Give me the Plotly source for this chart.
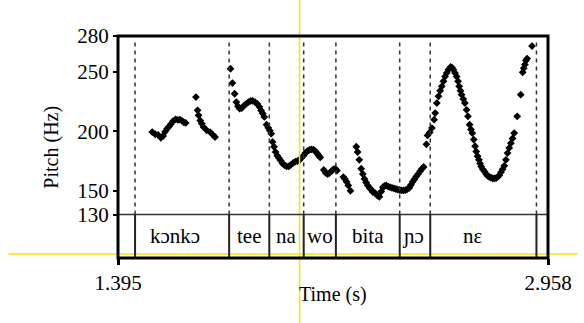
import plotly.graph_objects as go

# ---------------- data ----------------
konko_t = [1.5194, 1.5302, 1.5409, 1.5506, 1.5588, 1.5660, 1.5731, 1.5803, 1.5875,
           1.5946, 1.6043, 1.6125, 1.6197, 1.6269, 1.6340, 1.6412]
konko_hz = [199.3, 197.5, 197.0, 194.5, 196.0, 199.5, 202.0, 204.0, 206.0,
            208.5, 210.0, 209.5, 209.7, 209.0, 207.5, 207.0]

konko2_t = [1.6782, 1.6843, 1.6878, 1.6939, 1.6997, 1.7058, 1.7176, 1.7298, 1.7416, 1.7477]
konko2_hz = [228.7, 217.6, 213.4, 209.0, 206.4, 203.5, 200.8, 199.3, 196.6, 195.1]

tee_t = [1.804, 1.811, 1.819, 1.825, 1.831, 1.837, 1.845, 1.853, 1.861, 1.869, 1.877,
         1.885, 1.893, 1.901, 1.909, 1.915, 1.921, 1.927, 1.935, 1.941, 1.947, 1.952,
         1.957, 1.962, 1.968, 1.974, 1.980, 1.986, 1.993, 2.000, 2.008, 2.016, 2.024,
         2.032, 2.040, 2.048, 2.056, 2.063, 2.070, 2.077, 2.084, 2.091, 2.098, 2.106,
         2.113, 2.119, 2.124, 2.130]
tee_hz = [252.5, 240.5, 231.5, 224.5, 221.0, 219.0, 219.5, 221.5, 223.0, 224.5, 225.5,
          225.5, 224.5, 223.0, 220.5, 217.5, 215.0, 212.0, 205.5, 203.0, 200.5, 198.0,
          191.0, 187.0, 182.5, 179.5, 177.5, 175.5, 173.0, 171.5, 170.5, 170.5, 172.0,
          173.5, 174.5, 175.0, 176.0, 178.0, 179.7, 182.0, 183.5, 184.3, 184.8, 184.5,
          183.0, 181.5, 179.7, 178.0]

wo_t = [2.143, 2.150, 2.157, 2.164, 2.171, 2.178, 2.185, 2.191, 2.214, 2.220, 2.226,
        2.232, 2.240]
wo_hz = [167.5, 165.0, 164.0, 165.0, 166.5, 168.0, 168.5, 167.0, 161.5, 160.0, 157.5,
         154.5, 150.0]

bita_t = [2.261, 2.266, 2.272, 2.279, 2.285, 2.291, 2.297, 2.303, 2.309, 2.315, 2.321,
          2.330, 2.338, 2.345, 2.352, 2.358, 2.364, 2.370, 2.377, 2.384, 2.391, 2.398,
          2.405, 2.412, 2.419, 2.426, 2.433, 2.440, 2.447, 2.454, 2.460, 2.466, 2.472,
          2.479, 2.486, 2.493, 2.500, 2.506]
bita_hz = [187.0, 182.5, 176.0, 168.5, 164.0, 160.0, 157.0, 154.5, 152.5, 151.0, 149.0,
           148.0, 146.0, 145.0, 149.5, 153.0, 154.0, 154.5, 153.5, 153.0, 152.5, 152.0,
           151.5, 151.0, 150.5, 150.3, 150.3, 150.5, 151.5, 152.5, 155.0, 157.5, 159.5,
           162.0, 164.0, 166.5, 168.5, 170.0]

ne_t = [2.516, 2.520, 2.528, 2.536, 2.544, 2.548, 2.554, 2.560, 2.566, 2.572, 2.578,
        2.584, 2.590, 2.596, 2.604, 2.609, 2.614, 2.620, 2.626, 2.631, 2.635, 2.640,
        2.644, 2.650, 2.656, 2.662, 2.667, 2.673, 2.678, 2.683, 2.688, 2.693, 2.697,
        2.702, 2.707, 2.711, 2.715, 2.721, 2.727, 2.733, 2.739, 2.745, 2.751, 2.757,
        2.763, 2.769, 2.775, 2.781, 2.787, 2.793, 2.799, 2.805, 2.811, 2.817, 2.823,
        2.829, 2.835, 2.846, 2.859, 2.866, 2.870, 2.874, 2.878, 2.882, 2.900]
ne_hz = [189.0, 196.5, 199.0, 202.7, 209.7, 215.3, 223.7, 229.3, 234.0, 237.7, 242.0,
         246.0, 249.0, 251.7, 254.0, 253.5, 251.7, 249.0, 246.0, 242.0, 237.7, 234.0,
         230.7, 227.0, 223.7, 218.0, 212.5, 205.5, 201.5, 198.5, 193.0, 187.5, 183.0,
         179.0, 176.0, 173.0, 170.5, 168.0, 166.3, 164.0, 162.5, 161.5, 161.0, 160.5,
         160.5, 160.7, 161.5, 163.0, 165.5, 168.0, 171.0, 176.0, 181.7, 186.0, 190.0,
         194.0, 198.5, 212.5, 230.7, 249.5, 253.0, 256.0, 259.5, 261.0, 271.5]

time_min, time_max = 1.395, 2.958
pitch_min, pitch_max = 130, 280
pitch_ticks = [130, 150, 200, 250, 280]
time_ticks = [1.395, 2.958]
time_ticktext = ["1.395", "2.958"]

boundaries = [1.457, 1.799, 1.945, 2.070, 2.187, 2.419, 2.530, 2.916]
labels = ["", "kɔnkɔ", "tee", "na", "wo", "bita", "ɲɔ", "nɛ", ""]
label_shift = [0, -7, 0, 0, 0, 0, -2, -10, 0]

cursor_time = 2.055

# ---------------- figure ----------------
W, H = 584, 323
ML, MR, MT, MB = 118, 30, 36, 65
plot_h = H - MT - MB
px_per_hz = (214.3 - 35.7) / (pitch_max - pitch_min)
tier_bottom = pitch_min - (plot_h - (pitch_max - pitch_min) * px_per_hz) / px_per_hz

FONT = "Liberation Serif, DejaVu Serif, serif"

all_t = konko_t + konko2_t + tee_t + wo_t + bita_t + ne_t
all_hz = konko_hz + konko2_hz + tee_hz + wo_hz + bita_hz + ne_hz

fig = go.Figure()
fig.add_trace(go.Scatter(
    x=all_t, y=all_hz, mode="markers",
    marker=dict(symbol="diamond", size=6, color="black", line=dict(width=0)),
    showlegend=False, hoverinfo="skip"))

shapes = []
# cursor lines (yellow)
cx = (cursor_time - time_min) / (time_max - time_min)
shapes.append(dict(type="line", xref="paper", yref="paper",
                   x0=cx, x1=cx, y0=-(MB / plot_h), y1=1 + MT / plot_h,
                   line=dict(color="#f7e600", width=1.5), layer="above"))
shapes.append(dict(type="line", xref="paper", yref="paper",
                   x0=(7 - ML) / (W - ML - MR), x1=(W - ML) / (W - ML - MR),
                   y0=4 / plot_h, y1=4 / plot_h,
                   line=dict(color="#f7e600", width=1.5), layer="above"))

# tier line at bottom of pitch area
shapes.append(dict(type="line", xref="x", yref="y", x0=time_min, x1=time_max,
                   y0=pitch_min, y1=pitch_min, line=dict(color="#333", width=1.5)))
for b in boundaries:
    shapes.append(dict(type="line", xref="x", yref="y", x0=b, x1=b,
                       y0=pitch_min, y1=pitch_max - 5,
                       line=dict(color="#333", width=1.5, dash="4px,4px")))
    shapes.append(dict(type="line", xref="x", yref="y", x0=b, x1=b,
                       y0=tier_bottom, y1=pitch_min,
                       line=dict(color="#222", width=2)))
# frame
shapes.append(dict(type="rect", xref="paper", yref="paper", x0=0, x1=1, y0=0, y1=1,
                   line=dict(color="black", width=3), layer="above"))

edges = [time_min] + boundaries + [time_max]
annotations = []
for i, lab in enumerate(labels):
    if not lab:
        continue
    annotations.append(dict(x=(edges[i] + edges[i + 1]) / 2, y=(pitch_min + tier_bottom) / 2,
                            xref="x", yref="y", text=lab, showarrow=False,
                            xshift=label_shift[i],
                            font=dict(family=FONT, size=21, color="black")))
annotations.append(dict(x=(36 - ML) / (W - ML - MR), y=0.5, xref="paper", yref="paper",
                        text="Pitch (Hz)", textangle=-90, showarrow=False,
                        font=dict(family=FONT, size=20, color="black")))
annotations.append(dict(x=0.5, y=-(308 - (H - MB)) / plot_h, xref="paper", yref="paper",
                        text="Time (s)", showarrow=False,
                        font=dict(family=FONT, size=20, color="black")))

fig.update_layout(
    width=W, height=H,
    margin=dict(l=ML, r=MR, t=MT, b=MB, pad=0),
    paper_bgcolor="white", plot_bgcolor="white",
    shapes=shapes, annotations=annotations,
    xaxis=dict(range=[time_min, time_max], tickvals=time_ticks, ticktext=time_ticktext,
               ticks="outside", ticklen=6, tickwidth=3, tickcolor="black",
               showgrid=False, zeroline=False, showline=False,
               tickfont=dict(family=FONT, size=21, color="black")),
    yaxis=dict(range=[tier_bottom, pitch_max], tickvals=pitch_ticks,
               ticks="outside", ticklen=4, tickwidth=2, tickcolor="black",
               showgrid=False, zeroline=False, showline=False,
               tickfont=dict(family=FONT, size=21, color="black")),
)

fig.write_html("out.html", config={"displayModeBar": False},
               post_script="document.body.style.margin='0';document.body.style.overflow='hidden';")
